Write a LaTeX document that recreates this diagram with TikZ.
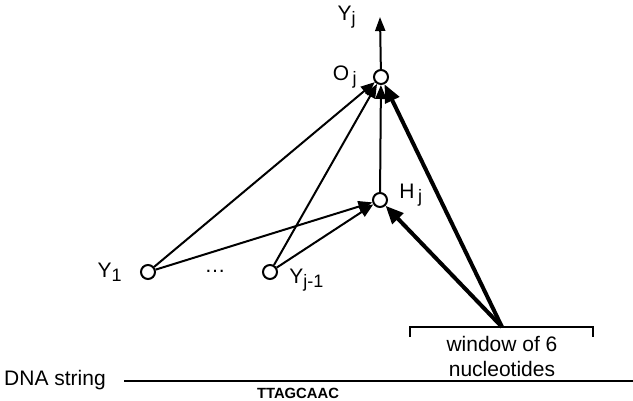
\documentclass[tikz,border=0pt]{standalone}
\usepackage{fontspec}
\setmainfont{Liberation Sans}
\usetikzlibrary{arrows.meta,positioning}

\newcommand{\lowj}[1]{\raisebox{-.35ex}{\small #1}}

\begin{document}
\begin{tikzpicture}[x=0.5pt,y=-0.5pt,
  unit/.style={circle, draw, line width=1pt, fill=white, inner sep=0pt, minimum size=7pt},
  conn/.style={line width=1pt, -{Triangle[length=7pt,width=5.5pt]}},
  heavy/.style={line width=2pt, -{Triangle[length=9pt,width=7.5pt]}},
  lbl/.style={font=\fontsize{10.5}{12.5}\selectfont, inner sep=0pt}]
  \useasboundingbox (0,0) rectangle (633,401);

  % units
  \node[unit] (O) at (381,77) {};
  \node[unit] (H) at (380,200) {};
  \node[unit] (Y1) at (148,272) {};
  \node[unit] (Yp) at (270,272) {};
  \coordinate (top) at (380,17);
  \coordinate (apex) at (502,327);

  % labels
  \node[lbl, left=12pt of top] {Y\lowj{j}};
  \node[lbl, left=8pt of O] {O\,\lowj{j}};
  \node[lbl, anchor=west] at (399,195) {H\,\lowj{j}};
  \node[lbl, left=9pt of Y1] {Y\lowj{1}};
  \node[lbl] at (215,271) {\dots};
  \node[lbl, anchor=west] at (289,280) {Y\lowj{j-1}};

  % window
  \coordinate (winL) at (410,337);
  \coordinate (winR) at (593,337);
  \draw[line width=1pt] (winL) -- (winL |- apex) -- (winR |- apex) -- (winR);
  \node[lbl, align=center] (win) at (502,356) {window of 6\\nucleotides};

  % connections
  \draw[conn] (Y1) -- (O);
  \draw[conn] (Y1) -- (H);
  \draw[conn] (Yp) -- (O);
  \draw[conn] (Yp) -- (H);
  \draw[conn] (H) -- (O);
  \draw[heavy] (apex) -- (O);
  \draw[heavy] (apex) -- (H);
  \draw[line width=1pt, -{Triangle[length=7pt,width=5pt]}] (O) -- (top);

  % DNA
  \node[lbl] (dna) at (55,380) {DNA string};
  \coordinate (dnaend) at (633,381);
  \draw[line width=1pt] ([xshift=9pt]dna.east |- dnaend) -- (dnaend);
  \node[font=\fontsize{7.4}{9}\selectfont\bfseries, inner sep=0pt] (seq) at (298,393) {TTAGCAAC};
\end{tikzpicture}
\end{document}
